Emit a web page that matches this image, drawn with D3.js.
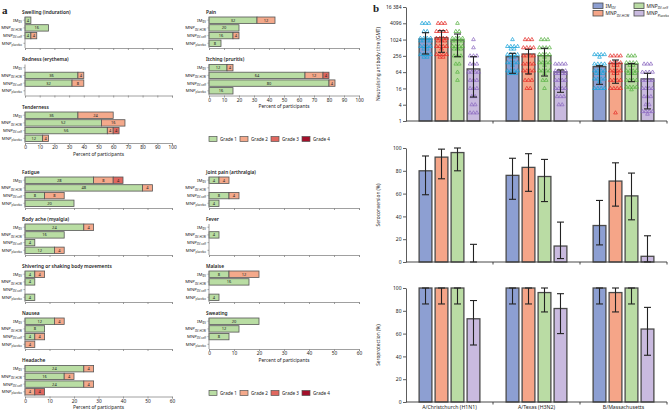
<!DOCTYPE html>
<html><head><meta charset="utf-8">
<script src="https://cdn.jsdelivr.net/npm/d3@7"></script>
<style>
body{margin:0;background:#fff}
svg{display:block}
text{font-family:"Noto Sans","Open Sans",sans-serif;fill:#222}
</style>
</head><body>
<svg id="c" width="669" height="413"></svg>
<script>
// ================= DATA: panel a =================
const groupMain = ["IM", "MNP", "MNP", "MNP"];
const groupSubs = ["IIV", "IIV-HCW", "IIV-self", "placebo"];
const gradeNames = ["Grade 1", "Grade 2", "Grade 3", "Grade 4"];
const reactionNames = ["Swelling (induration)", "Redness (erythema)", "Tenderness", "Pain",
  "Itching (pruritis)", "Fatigue", "Body ache (myalgia)", "Shivering or shaking body movements",
  "Nausea", "Headache", "Joint pain (arthralgia)", "Fever", "Malaise", "Sweating"];
// rows: IM, MNP-HCW, MNP-self, MNP-placebo ; cols: grade 1..4 (percent of participants)
const swelling   = [[4,0,0,0],[16,0,0,0],[4,4,0,0],[0,0,0,0]];
const redness    = [[0,0,0,0],[36,4,0,0],[32,8,0,0],[0,0,0,0]];
const tenderness = [[36,24,0,0],[52,16,0,0],[56,4,4,0],[12,4,0,0]];
const pain       = [[32,12,0,0],[20,0,0,0],[16,4,0,0],[8,0,0,0]];
const itching    = [[12,4,0,0],[64,12,4,0],[80,4,0,0],[16,0,0,0]];
const fatigue    = [[28,8,4,0],[48,4,0,0],[8,8,0,0],[20,0,0,0]];
const bodyAche   = [[24,4,0,0],[16,0,0,0],[4,0,0,0],[12,4,0,0]];
const shivering  = [[4,4,0,0],[4,0,0,0],[0,0,0,0],[4,0,0,0]];
const nausea     = [[12,4,0,0],[8,0,0,0],[4,4,0,0],[0,4,0,0]];
const headache   = [[24,4,0,0],[16,4,0,0],[24,4,0,0],[0,4,4,0]];
const jointPain  = [[4,4,0,0],[0,0,0,0],[8,4,0,0],[4,0,0,0]];
const fever      = [[0,0,0,0],[4,0,0,0],[0,0,0,0],[0,0,0,0]];
const malaise    = [[8,12,0,0],[16,0,0,0],[0,0,0,0],[4,0,0,0]];
const sweating   = [[20,0,0,0],[12,0,0,0],[8,0,0,0],[0,0,0,0]];
const ticks100 = [0,10,20,30,40,50,60,70,80,90,100];
const ticks60  = [0,10,20,30,40,50,60];

// ================= DATA: panel b =================
const strains = ["A/Christchurch (H1N1)", "A/Texas (H3N2)", "B/Massachusetts"];
const seriesMain = ["IM", "MNP", "MNP", "MNP"];
const seriesSubs = ["IIV", "IIV-HCW", "IIV-self", "Placebo"];
const gmt   = [[1075,1200,988,84],[238,300,260,65],[102,136,125,36]];
const gmtLo = [[300,347,238,7.7],[58,55,46,11.5],[22.7,24.8,28.4,2.8]];
const gmtHi = [[1835,2180,1645,238],[318,447,487,77],[111,180,134,58]];
const titreLevels = [2,4,8,16,32,64,128,256,512,1024,2048,4096];
// number of participants at each titre level (per strain, per group)
const titreCounts = [
  [[0,0,0,0,0,0,0,6,6,8,2,3],[0,0,0,0,0,0,0,6,5,7,4,3],[0,0,0,0,1,1,2,3,7,8,2,1],[3,2,2,3,3,4,3,3,1,1,0,0]],
  [[0,0,0,0,0,7,5,6,6,1,0,0],[0,0,0,2,3,5,4,4,4,3,0,0],[0,0,0,1,2,5,5,5,4,3,0,0],[0,2,3,4,4,8,4,0,0,0,0,0]],
  [[0,0,0,4,5,7,4,5,0,0,0,0],[1,0,0,4,4,6,6,4,0,0,0,0],[0,0,0,5,4,7,6,3,0,0,0,0],[5,2,3,4,4,4,3,0,0,0,0,0]]
];
const seroconv   = [[80,92,96,0],[76,83,75,14],[32,71,58,5]];
const seroconvLo = [[59,73,80,0],[55,62,53,3],[15,49,37,0.1]];
const seroconvHi = [[93,99,100,15.5],[91,95,90,35],[54,87,78,23]];
const seroprot   = [[100,100,100,73],[100,100,96,82],[100,96,100,64]];
const seroprotLo = [[86,86,86,50],[86,86,79,60],[86,79,86,41]];
const seroprotHi = [[100,100,100,89],[100,100,100,95],[100,100,100,83]];
const titreTicks = [1,4,16,64,256,1024,4096,16384];
const pctTicks = [0,20,40,60,80,100];

// ================= STYLE / LAYOUT =================
const gradeColors = ["#b9dda3","#f4a98b","#e0675f","#a3102a"];
const barFill = ["#8d9fd2","#f5a588","#badca4","#c9badf"];
const dotColor = ["#1da4d9","#e6302b","#5bb346","#8e6cc1"];
const cols = {L:[25,172], R:[209,359]};
const layoutA = [
  {data:swelling,   t:0,  col:"L", axisY:48,    max:100, lab:false},
  {data:redness,    t:1,  col:"L", axisY:95.5,  max:100, lab:false},
  {data:tenderness, t:2,  col:"L", axisY:143,   max:100, lab:true},
  {data:pain,       t:3,  col:"R", axisY:48,    max:100, lab:false},
  {data:itching,    t:4,  col:"R", axisY:95.5,  max:100, lab:true},
  {data:fatigue,    t:5,  col:"L", axisY:208,   max:60,  lab:false},
  {data:bodyAche,   t:6,  col:"L", axisY:255,   max:60,  lab:false},
  {data:shivering,  t:7,  col:"L", axisY:302,   max:60,  lab:false},
  {data:nausea,     t:8,  col:"L", axisY:349,   max:60,  lab:false},
  {data:headache,   t:9,  col:"L", axisY:396.5, max:60,  lab:true},
  {data:jointPain,  t:10, col:"R", axisY:208,   max:60,  lab:false},
  {data:fever,      t:11, col:"R", axisY:255,   max:60,  lab:false},
  {data:malaise,    t:12, col:"R", axisY:302,   max:60,  lab:false},
  {data:sweating,   t:13, col:"R", axisY:349,   max:60,  lab:true}
];

const svg = d3.select("#c");

function styleAxis(sel, color){
  sel.select(".domain").attr("stroke", color).attr("stroke-width", 0.8);
  sel.selectAll(".tick line").attr("stroke", color).attr("stroke-width", 0.8);
  sel.selectAll(".tick text").attr("fill","#333").style("font-family",'"Noto Sans",sans-serif');
}
function subLabel(g, x, y, main, sub, size, anchor){
  const t = g.append("text").attr("x", x).attr("y", y).attr("text-anchor", anchor||"start")
    .attr("font-size", size);
  t.append("tspan").text(main);
  t.append("tspan").text(sub).attr("font-size", size*0.66).attr("dy", size*0.3);
  return t;
}

// panel labels
svg.append("text").attr("x",2).attr("y",14).text("a").attr("font-size",11).attr("font-weight","bold")
  .style("font-family",'"Liberation Serif",serif');
svg.append("text").attr("x",373).attr("y",12).text("b").attr("font-size",11).attr("font-weight","bold")
  .style("font-family",'"Liberation Serif",serif');

// ================= PANEL A =================
layoutA.forEach(p => {
  const [x0,x1] = cols[p.col];
  const x = d3.scaleLinear().domain([0,p.max]).range([x0,x1]);
  const y = d3.scaleBand().domain(d3.range(4)).range([p.axisY-31, p.axisY-1.5]).paddingInner(0.17);
  const g = svg.append("g");
  g.append("text").attr("x", x0-3).attr("y", p.axisY-34.5).text(reactionNames[p.t])
    .attr("font-size", 4.8).attr("font-weight", 600);
  // bars
  p.data.forEach((row,i) => {
    let acc = 0;
    row.forEach((v,k) => {
      if (v > 0) {
        g.append("rect").attr("x", x(acc)).attr("y", y(i)).attr("width", x(acc+v)-x(acc))
          .attr("height", y.bandwidth()).attr("fill", gradeColors[k])
          .attr("stroke","#555").attr("stroke-width",0.8);
        g.append("text").attr("x", (x(acc)+x(acc+v))/2).attr("y", y(i)+y.bandwidth()/2+1.4)
          .attr("text-anchor","middle").attr("font-size",4).attr("fill","#333").text(v);
      }
      acc += v;
    });
    subLabel(g, x0-3, y(i)+y.bandwidth()/2+1.4, groupMain[i], groupSubs[i], 4.3, "end");
  });
  // axes
  const ax = d3.axisBottom(x).tickValues(p.max===100?ticks100:ticks60).tickSize(2).tickPadding(1)
    .tickFormat(p.lab ? d3.format("d") : () => "");
  const ag = g.append("g").attr("transform",`translate(0,${p.axisY})`).call(ax);
  ag.selectAll(".tick text").attr("font-size",4.8);
  styleAxis(ag, "#888");
  const ay = d3.axisLeft(y).tickSize(1.5).tickSizeOuter(0).tickFormat(() => "");
  const yg = g.append("g").attr("transform",`translate(${x0},0)`).call(ay);
  yg.select(".domain").attr("d", `M-0,${p.axisY-31}V${p.axisY}`);
  styleAxis(yg, "#888");
  if (p.lab) {
    g.append("text").attr("x",(x0+x1)/2).attr("y",p.axisY+12.5).attr("text-anchor","middle")
      .attr("font-size",4.8).text("Percent of participants");
  }
});
// legends panel a
[139, 393].forEach(ly => {
  const lg = svg.append("g");
  gradeNames.forEach((gname,k) => {
    const lx = 209 + k*31;
    lg.append("rect").attr("x",lx).attr("y",ly-2.5).attr("width",8).attr("height",5)
      .attr("fill",gradeColors[k]).attr("stroke","#555").attr("stroke-width",0.7);
    lg.append("text").attr("x",lx+11).attr("y",ly+1.6).attr("font-size",4.6).text(gname);
  });
});

// ================= PANEL B =================
const xG = d3.scaleBand().domain(d3.range(3)).range([406,667]);
const xI = d3.scaleBand().domain(d3.range(4)).range([0,xG.bandwidth()]).paddingInner(0.2).paddingOuter(0.82);
const yT = d3.scaleLog().base(2).domain([1,16384]).range([121,7]);
const yC = d3.scaleLinear().domain([0,100]).range([262,148]);
const yP = d3.scaleLinear().domain([0,100]).range([402,288]);

function xAxisB(yBase, labels){
  const g = svg.append("g");
  g.append("line").attr("x1",406).attr("x2",667).attr("y1",yBase).attr("y2",yBase)
    .attr("stroke","#333").attr("stroke-width",0.9);
  [1,2,3].forEach(i => {
    const xx = i<3 ? xG(i) : 667;
    g.append("line").attr("x1",xx).attr("x2",xx).attr("y1",yBase).attr("y2",yBase+2.5)
      .attr("stroke","#333").attr("stroke-width",0.9);
  });
  if (labels) strains.forEach((s,i) => {
    g.append("text").attr("x", xG(i)+xG.bandwidth()/2).attr("y", yBase+6.5).attr("text-anchor","middle")
      .attr("font-size",5.2).text(s);
  });
}
function yAxisB(scale, ticks, fmt, title){
  const ay = d3.axisLeft(scale).tickValues(ticks).tickSize(3).tickSizeOuter(0).tickPadding(1.5).tickFormat(fmt);
  const g = svg.append("g").attr("transform","translate(406,0)").call(ay);
  g.selectAll(".tick text").attr("font-size",5);
  styleAxis(g, "#333");
  const r = scale.range();
  svg.append("text").attr("transform",`translate(380,${(r[0]+r[1])/2}) rotate(-90)`)
    .attr("text-anchor","middle").attr("font-size",4.8).text(title);
}
function errBar(cx, y1, y2){
  const g = svg.append("g").attr("stroke","#222").attr("stroke-width",1.1);
  g.append("line").attr("x1",cx).attr("x2",cx).attr("y1",y1).attr("y2",y2);
  g.append("line").attr("x1",cx-3.5).attr("x2",cx+3.5).attr("y1",y1).attr("y2",y1);
  g.append("line").attr("x1",cx-3.5).attr("x2",cx+3.5).attr("y1",y2).attr("y2",y2);
}
function barsB(scale, vals, base){
  vals.forEach((row,i) => row.forEach((v,j) => {
    const bx = xG(i)+xI(j);
    if (v > 0 && scale(v) < base) {
      svg.append("rect").attr("x",bx).attr("y",scale(v)).attr("width",xI.bandwidth())
        .attr("height", base-scale(v)).attr("fill",barFill[j]).attr("stroke","#4a4a4a").attr("stroke-width",1.3);
    }
  }));
}
function errsB(scale, lo, hi){
  lo.forEach((row,i) => row.forEach((l,j) => {
    const cx = xG(i)+xI(j)+xI.bandwidth()/2;
    errBar(cx, scale(hi[i][j]), scale(l));
  }));
}

// top: GMT
yAxisB(yT, titreTicks, d => d===16384 ? "16 384" : d, "Neutralising antibody titre (GMT)");
barsB(yT, gmt, 121);
// triangles
const tri = d3.symbol().type(d3.symbolTriangle).size(6);
titreCounts.forEach((strain,i) => strain.forEach((counts,j) => {
  const cx = xG(i)+xI(j)+xI.bandwidth()/2;
  counts.forEach((n,li) => {
    if (!n) return;
    const rows = Math.ceil(n/4);
    for (let r=0; r<rows; r++){
      const k = Math.min(4, n - r*4);
      for (let q=0; q<k; q++){
        const px = cx + (q-(k-1)/2)*3.4;
        const py = yT(titreLevels[li]) + (r-(rows-1)/2)*2.6;
        svg.append("path").attr("d", tri()).attr("transform",`translate(${px},${py})`)
          .attr("fill","none").attr("stroke",dotColor[j]).attr("stroke-width",0.75);
      }
    }
  });
}));
errsB(yT, gmtLo, gmtHi);
xAxisB(121, false);

// middle: seroconversion
yAxisB(yC, pctTicks, d3.format("d"), "Seroconversion (%)");
barsB(yC, seroconv, 262);
errsB(yC, seroconvLo, seroconvHi);
xAxisB(262, false);

// bottom: seroprotection
yAxisB(yP, pctTicks, d3.format("d"), "Seroprotection (%)");
barsB(yP, seroprot, 402);
errsB(yP, seroprotLo, seroprotHi);
xAxisB(402, true);

// legend panel b
seriesMain.forEach((m,j) => {
  const colX = (j===0||j===1) ? 593 : 634;
  const ly = (j===0||j===2) ? 3 : 10.5;
  svg.append("rect").attr("x",colX).attr("y",ly).attr("width",10).attr("height",5.5)
    .attr("fill",barFill[j]).attr("stroke","#4a4a4a").attr("stroke-width",0.8);
  subLabel(svg, colX+12.5, ly+4.6, m, seriesSubs[j], 4.9, "start");
});
</script>
</body></html>
